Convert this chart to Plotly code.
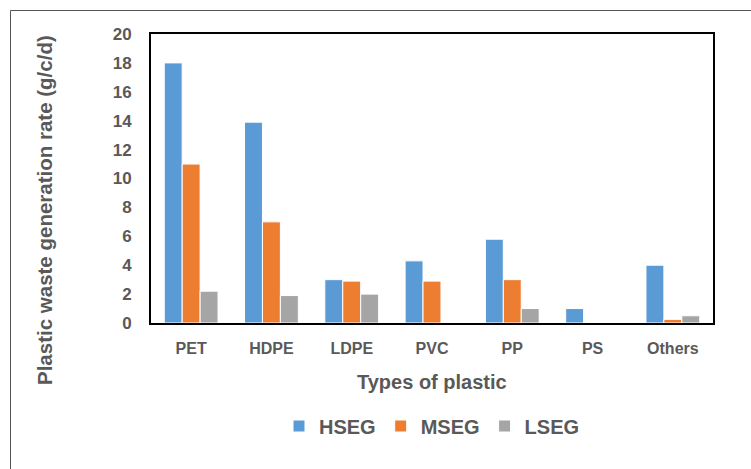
import plotly.graph_objects as go

categories = ["PET", "HDPE", "LDPE", "PVC", "PP", "PS", "Others"]
hseg = [18.0, 13.9, 3.0, 4.3, 5.8, 1.0, 4.0]
mseg = [11.0, 7.0, 2.9, 2.9, 3.0, 0.0, 0.25]
lseg = [2.2, 1.9, 2.0, 0.0, 1.0, 0.0, 0.5]
series_names = ["HSEG", "MSEG", "LSEG"]
colors = ["#5B9BD5", "#ED7D31", "#A5A5A5"]
y_ticks = [0, 2, 4, 6, 8, 10, 12, 14, 16, 18, 20]

W, H = 751, 469
L, R, T, B = 151, 38, 34, 146
pw, ph = W - L - R, H - T - B

def px_x(x):
    return (x - L) / pw

def px_y(y):
    return (H - B - y) / ph

FONT = "Liberation Sans, Arial, sans-serif"
GRAY = "#595959"

fig = go.Figure()
for name, vals, c in zip(series_names, [hseg, mseg, lseg], colors):
    fig.add_trace(go.Bar(x=categories, y=vals, name=name,
                         marker=dict(color=c, line=dict(color="white", width=1))))

fig.update_layout(
    width=W, height=H,
    margin=dict(l=L, r=R, t=T, b=B, autoexpand=False),
    paper_bgcolor="white", plot_bgcolor="white",
    barmode="group", bargap=0.33, bargroupgap=0,
    font=dict(family=FONT, color=GRAY),
    showlegend=True,
    legend=dict(orientation="h", x=px_x(432), xanchor="center", y=px_y(426), yanchor="middle",
                font=dict(size=20, family=FONT, color=GRAY, weight="bold"),
                itemwidth=30, tracegroupgap=0, bgcolor="rgba(0,0,0,0)"),
    xaxis=dict(showline=True, linecolor="black", linewidth=2, mirror=True,
               showgrid=False, ticks="",
               tickfont=dict(size=16, family=FONT, color=GRAY, weight="bold"),
               ticklabelstandoff=10),
    yaxis=dict(range=[0, 20], tickvals=y_ticks, showline=True, linecolor="black", linewidth=2,
               mirror=True, showgrid=False, zeroline=False, ticks="",
               tickfont=dict(size=17, family=FONT, color=GRAY, weight="bold"),
               ticklabelstandoff=14),
    annotations=[
        dict(text="Types of plastic", xref="paper", yref="paper", x=px_x(432), y=px_y(382),
             xanchor="center", yanchor="middle", showarrow=False,
             font=dict(size=20, family=FONT, color=GRAY, weight="bold")),
        dict(text="Plastic waste generation rate (g/c/d)", xref="paper", yref="paper",
             x=px_x(44), y=px_y(210), xanchor="center", yanchor="middle", textangle=-90,
             showarrow=False, font=dict(size=20.5, family=FONT, color=GRAY, weight="bold")),
    ],
    shapes=[
        dict(type="line", xref="paper", yref="paper", x0=px_x(10.5), y0=px_y(10.5),
             x1=px_x(W), y1=px_y(10.5), line=dict(color="#555555", width=1)),
        dict(type="line", xref="paper", yref="paper", x0=px_x(10.5), y0=px_y(10.5),
             x1=px_x(10.5), y1=px_y(H), line=dict(color="#555555", width=1)),
    ],
)

fig.write_html("out.html", config={"displayModeBar": False},
               post_script="document.body.style.margin='0px';document.body.style.overflow='hidden';")
